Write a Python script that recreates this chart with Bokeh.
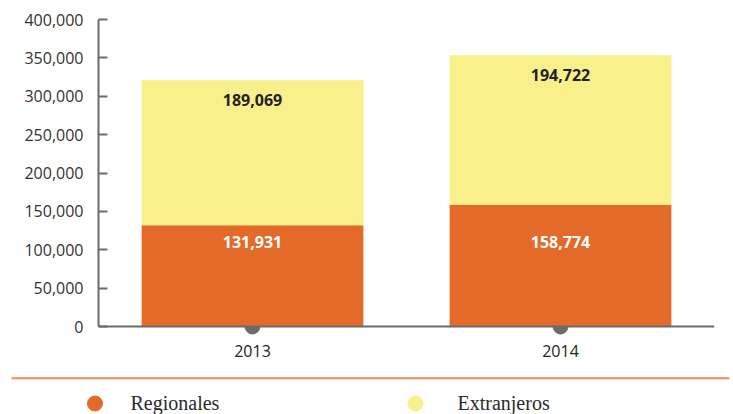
from bokeh.plotting import figure
from bokeh.models import (ColumnDataSource, FactorRange, Range1d, FixedTicker,
                          NumeralTickFormatter, Span)
from bokeh.core.properties import value
from bokeh.embed import file_html
from bokeh.resources import INLINE

# ---- data ----
years = ["2013", "2014"]
regionales = [131931, 158774]
extranjeros = [189069, 194722]
series_names = ["Regionales", "Extranjeros"]
series_colors = ["#E36A28", "#F9F08C"]
y_ticks = [0, 50000, 100000, 150000, 200000, 250000, 300000, 350000, 400000]

totals = [a + b for a, b in zip(regionales, extranjeros)]
fmt = lambda v: f"{v:,}"

SANS = "Open Sans"
SERIF = "Liberation Serif"
AXIS_GREY = "#6b6b6b"
ORANGE_LABEL_Y = 110000  # label height for the lower segment (layout constant)

src = ColumnDataSource(dict(
    year=years,
    Regionales=regionales,
    Extranjeros=extranjeros,
    total=totals,
    zero=[0] * len(years),
    reg_lbl=[fmt(v) for v in regionales],
    ext_lbl=[fmt(v) for v in extranjeros],
    reg_y=[ORANGE_LABEL_Y] * len(years),
))

p = figure(width=733, height=370, x_range=FactorRange(*years, range_padding=0),
           y_range=Range1d(-13029, 400000), output_backend="svg",
           toolbar_location=None, min_border_left=98, min_border_right=19,
           min_border_top=19, min_border_bottom=34)
p.outline_line_color = None
p.grid.visible = False
p.background_fill_color = "white"

# grey tick dots under the axis
p.scatter(x="year", y="zero", source=src, size=15, color=AXIS_GREY)

p.vbar_stack(series_names, x="year", width=0.72, source=src,
             color=series_colors, line_color=None)

p.text(x="year", y="total", text="ext_lbl", source=src, y_offset=20,
       text_align="center", text_baseline="middle", text_font=value(SANS),
       text_font_size="16px", text_font_style="bold", text_color="#222222")
p.text(x="year", y="reg_y", text="reg_lbl", source=src,
       text_align="center", text_baseline="middle", text_font=value(SANS),
       text_font_size="16px", text_font_style="bold", text_color="#ffffff")

p.add_layout(Span(location=0, dimension="width", line_color=AXIS_GREY,
                  line_width=2))

ya = p.yaxis[0]
ya.bounds = (0, 400000)
ya.ticker = FixedTicker(ticks=y_ticks)
ya.formatter = NumeralTickFormatter(format="0,0")
ya.axis_line_color = AXIS_GREY
ya.axis_line_width = 2
ya.major_tick_line_color = AXIS_GREY
ya.major_tick_line_width = 2
ya.major_tick_in = 9
ya.major_tick_out = 0
ya.minor_tick_line_color = None
ya.major_label_standoff = 15
ya.major_label_text_font = SANS
ya.major_label_text_font_size = "16px"
ya.major_label_text_color = "#333333"

xa = p.xaxis[0]
xa.axis_line_color = None
xa.major_tick_line_color = None
xa.minor_tick_line_color = None
xa.major_label_standoff = 2
xa.major_label_text_font = SANS
xa.major_label_text_font_size = "16px"
xa.major_label_text_color = "#222222"

# ---- legend strip ----
leg_x_dot = [94.5, 415]
leg_x_txt = [130, 457]
lsrc = ColumnDataSource(dict(name=series_names, color=series_colors,
                             xd=leg_x_dot, xt=leg_x_txt,
                             yd=[11, 11], yt=[12, 12]))

p2 = figure(width=733, height=44, x_range=Range1d(0, 733), y_range=Range1d(0, 44),
            output_backend="svg", toolbar_location=None,
            x_axis_type=None, y_axis_type=None, min_border=0)
p2.outline_line_color = None
p2.grid.visible = False
p2.segment(x0=[11], y0=[36.3], x1=[729], y1=[36.3], line_color="#EE8D5B",
           line_width=2)
p2.scatter(x="xd", y="yd", color="color", size=15, source=lsrc)
p2.text(x="xt", y="yt", text="name", source=lsrc, text_font=value(SERIF),
        text_font_size="20px", text_color="#2a2a2a", text_baseline="middle")

open("out.html", "w").write(file_html([p, p2], INLINE))
